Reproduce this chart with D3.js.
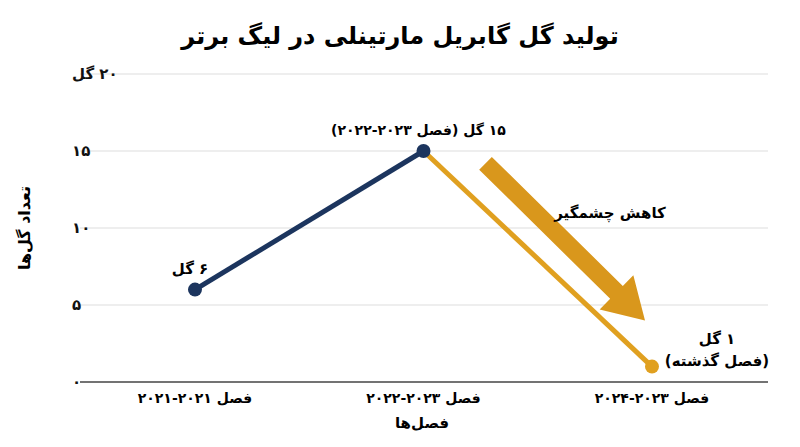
<!DOCTYPE html>
<html><head><meta charset="utf-8">
<script src="https://cdn.jsdelivr.net/npm/d3@7/dist/d3.min.js"></script>
<style>body{margin:0;background:#fff}text{font-family:"DejaVu Sans",sans-serif;font-weight:bold}</style>
</head><body><svg id="c" width="800" height="447"></svg>
<script>
const categories=["فصل ۲۰۲۱-۲۰۲۱","فصل ۲۰۲۳-۲۰۲۲","فصل ۲۰۲۳-۲۰۲۴"];
const goals=[6,15,1];
const yTicks=[0,5,10,15,20];
const yTickLabels=["۰","۵","۱۰","۱۵","۲۰ گل"];
const navy="#1c355e", gold="#e0a020";
const svg=d3.select("#c");
const x=d3.scalePoint().domain(categories).range([195,652]);
const y=d3.scaleLinear().domain([0,20]).range([382,74]);
svg.append("text").attr("x",400).attr("y",44).attr("text-anchor","middle").attr("direction","rtl").attr("font-size",24).text("تولید گل گابریل مارتینلی در لیگ برتر");
yTicks.forEach((t,i)=>{
 svg.append("line").attr("x1",80).attr("x2",768).attr("y1",y(t)).attr("y2",y(t)).attr("stroke",t===0?"#444":"#ddd").attr("stroke-width",t===0?1.5:1);
 svg.append("text").attr("x",72).attr("y",y(t)+5).attr("text-anchor","end").attr("direction","rtl").attr("font-size",15).attr("fill","#111").text(yTickLabels[i]);
});
categories.forEach(c=>svg.append("text").attr("x",x(c)).attr("y",403).attr("text-anchor","middle").attr("direction","rtl").attr("font-size",14).text(c));
svg.append("text").attr("x",422).attr("y",428).attr("text-anchor","middle").attr("direction","rtl").attr("font-size",15).text("فصل‌ها");
svg.append("text").attr("transform","translate(30,228) rotate(-90)").attr("text-anchor","middle").attr("direction","rtl").attr("font-size",16).text("تعداد گل‌ها");
const pts=categories.map((c,i)=>[x(c),y(goals[i])]);
svg.append("line").attr("x1",pts[0][0]).attr("y1",pts[0][1]).attr("x2",pts[1][0]).attr("y2",pts[1][1]).attr("stroke",navy).attr("stroke-width",5);
svg.append("line").attr("x1",pts[1][0]).attr("y1",pts[1][1]).attr("x2",pts[2][0]).attr("y2",pts[2][1]).attr("stroke",gold).attr("stroke-width",5);
pts.forEach((p,i)=>svg.append("circle").attr("cx",p[0]).attr("cy",p[1]).attr("r",7).attr("fill",i<2?navy:gold));
const a0=[x(categories[1])+62,y(14.2)],a1=[x(categories[2])-7,y(4)];
const dx=a1[0]-a0[0],dy=a1[1]-a0[1],L=Math.hypot(dx,dy),ux=dx/L,uy=dy/L,nx=-uy,ny=ux;
const hl=40,w=9,hw=24,b=[a1[0]-ux*hl,a1[1]-uy*hl];
const poly=[[a0[0]+nx*w,a0[1]+ny*w],[b[0]+nx*w,b[1]+ny*w],[b[0]+nx*hw,b[1]+ny*hw],a1,[b[0]-nx*hw,b[1]-ny*hw],[b[0]-nx*w,b[1]-ny*w],[a0[0]-nx*w,a0[1]-ny*w]];
svg.append("polygon").attr("points",poly.map(p=>p.join(",")).join(" ")).attr("fill","#d9971c");
svg.append("text").attr("x",610).attr("y",218).attr("text-anchor","middle").attr("direction","rtl").attr("font-size",15).text("کاهش چشمگیر");
svg.append("text").attr("x",pts[0][0]-5).attr("y",pts[0][1]-16).attr("text-anchor","middle").attr("direction","rtl").attr("font-size",15).text("۶ گل");
svg.append("text").attr("x",pts[1][0]-5).attr("y",pts[1][1]-16).attr("text-anchor","middle").attr("direction","rtl").attr("font-size",14).text("۱۵ گل (فصل ۲۰۲۳-۲۰۲۲)");
svg.append("text").attr("x",717).attr("y",344).attr("text-anchor","middle").attr("direction","rtl").attr("font-size",15).text("۱ گل");
svg.append("text").attr("x",717).attr("y",366).attr("text-anchor","middle").attr("direction","rtl").attr("font-size",15).text("(فصل گذشته)");
</script></body></html>
